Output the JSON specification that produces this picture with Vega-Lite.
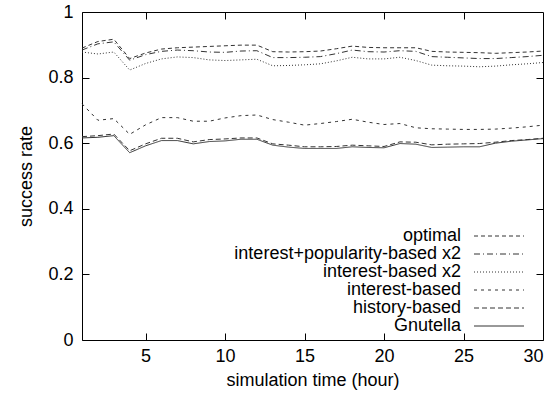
{
  "$schema": "https://vega.github.io/schema/vega-lite/v6.json",
  "width": 461,
  "height": 328,
  "autosize": "none",
  "padding": {"left": 82, "top": 12, "right": 13, "bottom": 60},
  "background": "white",
  "config": {
    "font": "Liberation Sans",
    "view": {"stroke": "#000", "strokeWidth": 1},
    "axis": {"grid": false, "domain": false, "labelFont": "Liberation Sans", "titleFont": "Liberation Sans", "labelFontSize": 18, "titleFontSize": 18, "titleFontWeight": "normal", "labelColor": "#000", "titleColor": "#000", "tickColor": "#000"}
  },
  "data": {"values": [
    {"t":1,"s":"optimal","v":0.890},{"t":2,"s":"optimal","v":0.910},{"t":3,"s":"optimal","v":0.917},{"t":4,"s":"optimal","v":0.858},{"t":5,"s":"optimal","v":0.875},{"t":6,"s":"optimal","v":0.887},{"t":7,"s":"optimal","v":0.891},{"t":8,"s":"optimal","v":0.893},{"t":9,"s":"optimal","v":0.895},{"t":10,"s":"optimal","v":0.897},{"t":11,"s":"optimal","v":0.899},{"t":12,"s":"optimal","v":0.899},{"t":13,"s":"optimal","v":0.879},{"t":14,"s":"optimal","v":0.878},{"t":15,"s":"optimal","v":0.879},{"t":16,"s":"optimal","v":0.881},{"t":17,"s":"optimal","v":0.888},{"t":18,"s":"optimal","v":0.896},{"t":19,"s":"optimal","v":0.892},{"t":20,"s":"optimal","v":0.891},{"t":21,"s":"optimal","v":0.891},{"t":22,"s":"optimal","v":0.891},{"t":23,"s":"optimal","v":0.880},{"t":24,"s":"optimal","v":0.878},{"t":25,"s":"optimal","v":0.877},{"t":26,"s":"optimal","v":0.876},{"t":27,"s":"optimal","v":0.874},{"t":28,"s":"optimal","v":0.876},{"t":29,"s":"optimal","v":0.878},{"t":30,"s":"optimal","v":0.881},
    {"t":1,"s":"interest+popularity-based x2","v":0.884},{"t":2,"s":"interest+popularity-based x2","v":0.903},{"t":3,"s":"interest+popularity-based x2","v":0.909},{"t":4,"s":"interest+popularity-based x2","v":0.853},{"t":5,"s":"interest+popularity-based x2","v":0.870},{"t":6,"s":"interest+popularity-based x2","v":0.880},{"t":7,"s":"interest+popularity-based x2","v":0.884},{"t":8,"s":"interest+popularity-based x2","v":0.882},{"t":9,"s":"interest+popularity-based x2","v":0.878},{"t":10,"s":"interest+popularity-based x2","v":0.877},{"t":11,"s":"interest+popularity-based x2","v":0.881},{"t":12,"s":"interest+popularity-based x2","v":0.882},{"t":13,"s":"interest+popularity-based x2","v":0.861},{"t":14,"s":"interest+popularity-based x2","v":0.861},{"t":15,"s":"interest+popularity-based x2","v":0.862},{"t":16,"s":"interest+popularity-based x2","v":0.864},{"t":17,"s":"interest+popularity-based x2","v":0.873},{"t":18,"s":"interest+popularity-based x2","v":0.884},{"t":19,"s":"interest+popularity-based x2","v":0.879},{"t":20,"s":"interest+popularity-based x2","v":0.878},{"t":21,"s":"interest+popularity-based x2","v":0.882},{"t":22,"s":"interest+popularity-based x2","v":0.880},{"t":23,"s":"interest+popularity-based x2","v":0.864},{"t":24,"s":"interest+popularity-based x2","v":0.862},{"t":25,"s":"interest+popularity-based x2","v":0.860},{"t":26,"s":"interest+popularity-based x2","v":0.858},{"t":27,"s":"interest+popularity-based x2","v":0.858},{"t":28,"s":"interest+popularity-based x2","v":0.861},{"t":29,"s":"interest+popularity-based x2","v":0.864},{"t":30,"s":"interest+popularity-based x2","v":0.868},
    {"t":1,"s":"interest-based x2","v":0.878},{"t":2,"s":"interest-based x2","v":0.872},{"t":3,"s":"interest-based x2","v":0.878},{"t":4,"s":"interest-based x2","v":0.823},{"t":5,"s":"interest-based x2","v":0.843},{"t":6,"s":"interest-based x2","v":0.857},{"t":7,"s":"interest-based x2","v":0.863},{"t":8,"s":"interest-based x2","v":0.861},{"t":9,"s":"interest-based x2","v":0.854},{"t":10,"s":"interest-based x2","v":0.852},{"t":11,"s":"interest-based x2","v":0.854},{"t":12,"s":"interest-based x2","v":0.856},{"t":13,"s":"interest-based x2","v":0.836},{"t":14,"s":"interest-based x2","v":0.837},{"t":15,"s":"interest-based x2","v":0.839},{"t":16,"s":"interest-based x2","v":0.842},{"t":17,"s":"interest-based x2","v":0.851},{"t":18,"s":"interest-based x2","v":0.862},{"t":19,"s":"interest-based x2","v":0.857},{"t":20,"s":"interest-based x2","v":0.857},{"t":21,"s":"interest-based x2","v":0.862},{"t":22,"s":"interest-based x2","v":0.852},{"t":23,"s":"interest-based x2","v":0.838},{"t":24,"s":"interest-based x2","v":0.836},{"t":25,"s":"interest-based x2","v":0.835},{"t":26,"s":"interest-based x2","v":0.833},{"t":27,"s":"interest-based x2","v":0.835},{"t":28,"s":"interest-based x2","v":0.839},{"t":29,"s":"interest-based x2","v":0.842},{"t":30,"s":"interest-based x2","v":0.846},
    {"t":1,"s":"interest-based","v":0.720},{"t":2,"s":"interest-based","v":0.670},{"t":3,"s":"interest-based","v":0.675},{"t":4,"s":"interest-based","v":0.627},{"t":5,"s":"interest-based","v":0.656},{"t":6,"s":"interest-based","v":0.678},{"t":7,"s":"interest-based","v":0.678},{"t":8,"s":"interest-based","v":0.667},{"t":9,"s":"interest-based","v":0.667},{"t":10,"s":"interest-based","v":0.677},{"t":11,"s":"interest-based","v":0.684},{"t":12,"s":"interest-based","v":0.686},{"t":13,"s":"interest-based","v":0.672},{"t":14,"s":"interest-based","v":0.664},{"t":15,"s":"interest-based","v":0.655},{"t":16,"s":"interest-based","v":0.660},{"t":17,"s":"interest-based","v":0.666},{"t":18,"s":"interest-based","v":0.673},{"t":19,"s":"interest-based","v":0.664},{"t":20,"s":"interest-based","v":0.657},{"t":21,"s":"interest-based","v":0.660},{"t":22,"s":"interest-based","v":0.647},{"t":23,"s":"interest-based","v":0.644},{"t":24,"s":"interest-based","v":0.643},{"t":25,"s":"interest-based","v":0.642},{"t":26,"s":"interest-based","v":0.642},{"t":27,"s":"interest-based","v":0.643},{"t":28,"s":"interest-based","v":0.646},{"t":29,"s":"interest-based","v":0.650},{"t":30,"s":"interest-based","v":0.655},
    {"t":1,"s":"history-based","v":0.620},{"t":2,"s":"history-based","v":0.623},{"t":3,"s":"history-based","v":0.628},{"t":4,"s":"history-based","v":0.577},{"t":5,"s":"history-based","v":0.598},{"t":6,"s":"history-based","v":0.615},{"t":7,"s":"history-based","v":0.615},{"t":8,"s":"history-based","v":0.604},{"t":9,"s":"history-based","v":0.611},{"t":10,"s":"history-based","v":0.613},{"t":11,"s":"history-based","v":0.616},{"t":12,"s":"history-based","v":0.616},{"t":13,"s":"history-based","v":0.598},{"t":14,"s":"history-based","v":0.594},{"t":15,"s":"history-based","v":0.589},{"t":16,"s":"history-based","v":0.589},{"t":17,"s":"history-based","v":0.590},{"t":18,"s":"history-based","v":0.594},{"t":19,"s":"history-based","v":0.592},{"t":20,"s":"history-based","v":0.590},{"t":21,"s":"history-based","v":0.604},{"t":22,"s":"history-based","v":0.603},{"t":23,"s":"history-based","v":0.595},{"t":24,"s":"history-based","v":0.597},{"t":25,"s":"history-based","v":0.598},{"t":26,"s":"history-based","v":0.599},{"t":27,"s":"history-based","v":0.603},{"t":28,"s":"history-based","v":0.608},{"t":29,"s":"history-based","v":0.611},{"t":30,"s":"history-based","v":0.615},
    {"t":1,"s":"Gnutella","v":0.616},{"t":2,"s":"Gnutella","v":0.618},{"t":3,"s":"Gnutella","v":0.623},{"t":4,"s":"Gnutella","v":0.571},{"t":5,"s":"Gnutella","v":0.592},{"t":6,"s":"Gnutella","v":0.608},{"t":7,"s":"Gnutella","v":0.608},{"t":8,"s":"Gnutella","v":0.598},{"t":9,"s":"Gnutella","v":0.605},{"t":10,"s":"Gnutella","v":0.607},{"t":11,"s":"Gnutella","v":0.612},{"t":12,"s":"Gnutella","v":0.612},{"t":13,"s":"Gnutella","v":0.594},{"t":14,"s":"Gnutella","v":0.588},{"t":15,"s":"Gnutella","v":0.584},{"t":16,"s":"Gnutella","v":0.584},{"t":17,"s":"Gnutella","v":0.584},{"t":18,"s":"Gnutella","v":0.589},{"t":19,"s":"Gnutella","v":0.587},{"t":20,"s":"Gnutella","v":0.586},{"t":21,"s":"Gnutella","v":0.599},{"t":22,"s":"Gnutella","v":0.597},{"t":23,"s":"Gnutella","v":0.587},{"t":24,"s":"Gnutella","v":0.588},{"t":25,"s":"Gnutella","v":0.589},{"t":26,"s":"Gnutella","v":0.589},{"t":27,"s":"Gnutella","v":0.600},{"t":28,"s":"Gnutella","v":0.606},{"t":29,"s":"Gnutella","v":0.610},{"t":30,"s":"Gnutella","v":0.614}
  ]},
  "layer": [
    {
      "mark": {"type": "line", "stroke": "#333", "strokeWidth": 1},
      "encoding": {
        "x": {"field": "t", "type": "quantitative", "scale": {"domain": [1, 30], "nice": false, "zero": false},
          "axis": {"orient": "bottom", "values": [5, 10, 15, 20, 25, 30], "tickSize": -7, "labelPadding": 14, "title": "simulation time (hour)", "titlePadding": 6}},
        "y": {"field": "v", "type": "quantitative", "scale": {"domain": [0, 1], "nice": false},
          "axis": {"orient": "left", "values": [0, 0.2, 0.4, 0.6, 0.8, 1], "format": "~g", "tickSize": -7, "labelPadding": 16, "title": "success rate", "titlePadding": 12}},
        "strokeDash": {"field": "s", "type": "nominal",
          "scale": {"domain": ["optimal", "interest+popularity-based x2", "interest-based x2", "interest-based", "history-based", "Gnutella"],
                    "range": [[4, 3], [6, 3, 1, 3], [1, 2], [3, 4], [5, 3], [1, 0]]},
          "legend": {"orient": "none", "legendX": 408, "legendY": 215, "title": null, "symbolType": "M-5,0H5", "symbolSize": 100, "symbolStrokeColor": "#333", "symbolStrokeWidth": 1, "symbolFillColor": "transparent", "rowPadding": 0, "labelAlign": "right", "labelOffset": -47, "labelFontSize": 18, "labelLimit": 0, "labelFont": "Liberation Sans", "labelColor": "#000"}}
      }
    },
    {
      "mark": {"type": "line", "opacity": 0},
      "encoding": {
        "x": {"field": "t", "type": "quantitative", "axis": {"orient": "top", "values": [5, 10, 15, 20, 25], "tickSize": -7, "labels": false, "title": null}},
        "y": {"field": "v", "type": "quantitative", "axis": {"orient": "right", "values": [0.2, 0.4, 0.6, 0.8], "tickSize": -7, "labels": false, "title": null}},
        "detail": {"field": "s"}
      }
    }
  ],
  "resolve": {"axis": {"x": "independent", "y": "independent"}}
}
